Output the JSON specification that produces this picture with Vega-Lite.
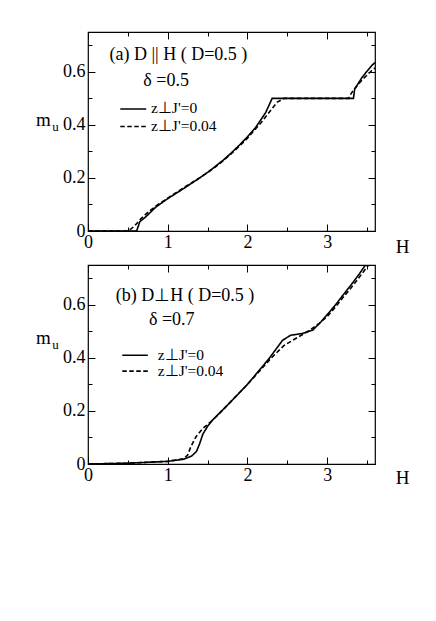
{
  "$schema": "https://vega.github.io/schema/vega-lite/v6.json",
  "autosize": "none",
  "padding": {"left": 88, "top": 32, "right": 348, "bottom": 589},
  "background": "white",
  "bounds": "flush",
  "spacing": 34,
  "datasets": {
    "curves": [
      {"panel": "a", "series": "z⊥J'=0", "H": 0, "m": 0},
      {"panel": "a", "series": "z⊥J'=0", "H": 0.61, "m": 0},
      {"panel": "a", "series": "z⊥J'=0", "H": 0.65, "m": 0.035},
      {"panel": "a", "series": "z⊥J'=0", "H": 0.73, "m": 0.055},
      {"panel": "a", "series": "z⊥J'=0", "H": 0.85, "m": 0.09},
      {"panel": "a", "series": "z⊥J'=0", "H": 1.0, "m": 0.122},
      {"panel": "a", "series": "z⊥J'=0", "H": 1.2, "m": 0.16},
      {"panel": "a", "series": "z⊥J'=0", "H": 1.4, "m": 0.2},
      {"panel": "a", "series": "z⊥J'=0", "H": 1.5, "m": 0.221},
      {"panel": "a", "series": "z⊥J'=0", "H": 1.6, "m": 0.244},
      {"panel": "a", "series": "z⊥J'=0", "H": 1.7, "m": 0.268},
      {"panel": "a", "series": "z⊥J'=0", "H": 1.8, "m": 0.295},
      {"panel": "a", "series": "z⊥J'=0", "H": 1.9, "m": 0.324},
      {"panel": "a", "series": "z⊥J'=0", "H": 2.0, "m": 0.355},
      {"panel": "a", "series": "z⊥J'=0", "H": 2.1, "m": 0.389},
      {"panel": "a", "series": "z⊥J'=0", "H": 2.23, "m": 0.447},
      {"panel": "a", "series": "z⊥J'=0", "H": 2.31, "m": 0.5},
      {"panel": "a", "series": "z⊥J'=0", "H": 3.33, "m": 0.5},
      {"panel": "a", "series": "z⊥J'=0", "H": 3.345, "m": 0.535},
      {"panel": "a", "series": "z⊥J'=0", "H": 3.44, "m": 0.58},
      {"panel": "a", "series": "z⊥J'=0", "H": 3.56, "m": 0.624},
      {"panel": "a", "series": "z⊥J'=0", "H": 3.6, "m": 0.635},
      {"panel": "a", "series": "z⊥J'=0.04", "H": 0, "m": 0},
      {"panel": "a", "series": "z⊥J'=0.04", "H": 0.49, "m": 0},
      {"panel": "a", "series": "z⊥J'=0.04", "H": 0.54, "m": 0.008},
      {"panel": "a", "series": "z⊥J'=0.04", "H": 0.58, "m": 0.018},
      {"panel": "a", "series": "z⊥J'=0.04", "H": 0.67, "m": 0.048},
      {"panel": "a", "series": "z⊥J'=0.04", "H": 0.75, "m": 0.07},
      {"panel": "a", "series": "z⊥J'=0.04", "H": 0.85, "m": 0.094},
      {"panel": "a", "series": "z⊥J'=0.04", "H": 1.0, "m": 0.124},
      {"panel": "a", "series": "z⊥J'=0.04", "H": 1.2, "m": 0.163},
      {"panel": "a", "series": "z⊥J'=0.04", "H": 1.4, "m": 0.2},
      {"panel": "a", "series": "z⊥J'=0.04", "H": 1.5, "m": 0.22},
      {"panel": "a", "series": "z⊥J'=0.04", "H": 1.6, "m": 0.242},
      {"panel": "a", "series": "z⊥J'=0.04", "H": 1.7, "m": 0.266},
      {"panel": "a", "series": "z⊥J'=0.04", "H": 1.8, "m": 0.292},
      {"panel": "a", "series": "z⊥J'=0.04", "H": 1.9, "m": 0.32},
      {"panel": "a", "series": "z⊥J'=0.04", "H": 2.0, "m": 0.35},
      {"panel": "a", "series": "z⊥J'=0.04", "H": 2.17, "m": 0.408},
      {"panel": "a", "series": "z⊥J'=0.04", "H": 2.3, "m": 0.458},
      {"panel": "a", "series": "z⊥J'=0.04", "H": 2.375, "m": 0.486},
      {"panel": "a", "series": "z⊥J'=0.04", "H": 2.46, "m": 0.5},
      {"panel": "a", "series": "z⊥J'=0.04", "H": 3.27, "m": 0.5},
      {"panel": "a", "series": "z⊥J'=0.04", "H": 3.3, "m": 0.518},
      {"panel": "a", "series": "z⊥J'=0.04", "H": 3.34, "m": 0.535},
      {"panel": "a", "series": "z⊥J'=0.04", "H": 3.44, "m": 0.57},
      {"panel": "a", "series": "z⊥J'=0.04", "H": 3.56, "m": 0.605},
      {"panel": "a", "series": "z⊥J'=0.04", "H": 3.6, "m": 0.615},
      {"panel": "b", "series": "z⊥J'=0", "H": 0, "m": 0},
      {"panel": "b", "series": "z⊥J'=0", "H": 0.5, "m": 0.003},
      {"panel": "b", "series": "z⊥J'=0", "H": 1.0, "m": 0.01},
      {"panel": "b", "series": "z⊥J'=0", "H": 1.2, "m": 0.018},
      {"panel": "b", "series": "z⊥J'=0", "H": 1.3, "m": 0.03},
      {"panel": "b", "series": "z⊥J'=0", "H": 1.36, "m": 0.047},
      {"panel": "b", "series": "z⊥J'=0", "H": 1.4, "m": 0.076},
      {"panel": "b", "series": "z⊥J'=0", "H": 1.44, "m": 0.112},
      {"panel": "b", "series": "z⊥J'=0", "H": 1.5, "m": 0.142},
      {"panel": "b", "series": "z⊥J'=0", "H": 1.56, "m": 0.165},
      {"panel": "b", "series": "z⊥J'=0", "H": 1.75, "m": 0.222},
      {"panel": "b", "series": "z⊥J'=0", "H": 2.0, "m": 0.3},
      {"panel": "b", "series": "z⊥J'=0", "H": 2.27, "m": 0.397},
      {"panel": "b", "series": "z⊥J'=0", "H": 2.44, "m": 0.466},
      {"panel": "b", "series": "z⊥J'=0", "H": 2.54, "m": 0.485},
      {"panel": "b", "series": "z⊥J'=0", "H": 2.69, "m": 0.492},
      {"panel": "b", "series": "z⊥J'=0", "H": 2.82, "m": 0.505},
      {"panel": "b", "series": "z⊥J'=0", "H": 2.92, "m": 0.535},
      {"panel": "b", "series": "z⊥J'=0", "H": 3.0, "m": 0.563},
      {"panel": "b", "series": "z⊥J'=0", "H": 3.1, "m": 0.598},
      {"panel": "b", "series": "z⊥J'=0", "H": 3.2, "m": 0.637},
      {"panel": "b", "series": "z⊥J'=0", "H": 3.3, "m": 0.675},
      {"panel": "b", "series": "z⊥J'=0", "H": 3.4, "m": 0.715},
      {"panel": "b", "series": "z⊥J'=0", "H": 3.48, "m": 0.75},
      {"panel": "b", "series": "z⊥J'=0.04", "H": 0, "m": 0},
      {"panel": "b", "series": "z⊥J'=0.04", "H": 0.5, "m": 0.003},
      {"panel": "b", "series": "z⊥J'=0.04", "H": 1.0, "m": 0.01},
      {"panel": "b", "series": "z⊥J'=0.04", "H": 1.2, "m": 0.02},
      {"panel": "b", "series": "z⊥J'=0.04", "H": 1.25, "m": 0.034},
      {"panel": "b", "series": "z⊥J'=0.04", "H": 1.29, "m": 0.065},
      {"panel": "b", "series": "z⊥J'=0.04", "H": 1.355, "m": 0.103},
      {"panel": "b", "series": "z⊥J'=0.04", "H": 1.44, "m": 0.134},
      {"panel": "b", "series": "z⊥J'=0.04", "H": 1.56, "m": 0.164},
      {"panel": "b", "series": "z⊥J'=0.04", "H": 1.75, "m": 0.222},
      {"panel": "b", "series": "z⊥J'=0.04", "H": 2.0, "m": 0.3},
      {"panel": "b", "series": "z⊥J'=0.04", "H": 2.31, "m": 0.403},
      {"panel": "b", "series": "z⊥J'=0.04", "H": 2.46, "m": 0.447},
      {"panel": "b", "series": "z⊥J'=0.04", "H": 2.6, "m": 0.472},
      {"panel": "b", "series": "z⊥J'=0.04", "H": 2.77, "m": 0.502},
      {"panel": "b", "series": "z⊥J'=0.04", "H": 2.9, "m": 0.53},
      {"panel": "b", "series": "z⊥J'=0.04", "H": 3.0, "m": 0.556},
      {"panel": "b", "series": "z⊥J'=0.04", "H": 3.1, "m": 0.59},
      {"panel": "b", "series": "z⊥J'=0.04", "H": 3.2, "m": 0.628},
      {"panel": "b", "series": "z⊥J'=0.04", "H": 3.3, "m": 0.664},
      {"panel": "b", "series": "z⊥J'=0.04", "H": 3.4, "m": 0.703},
      {"panel": "b", "series": "z⊥J'=0.04", "H": 3.52, "m": 0.75}
    ],
    "legendLines": [
      {"panel": "a", "series": "z⊥J'=0", "H": 0.405, "m": 0.46},
      {"panel": "a", "series": "z⊥J'=0", "H": 0.73, "m": 0.46},
      {"panel": "a", "series": "z⊥J'=0.04", "H": 0.405, "m": 0.394},
      {"panel": "a", "series": "z⊥J'=0.04", "H": 0.73, "m": 0.394},
      {"panel": "b", "series": "z⊥J'=0", "H": 0.43, "m": 0.41},
      {"panel": "b", "series": "z⊥J'=0", "H": 0.75, "m": 0.41},
      {"panel": "b", "series": "z⊥J'=0.04", "H": 0.43, "m": 0.35},
      {"panel": "b", "series": "z⊥J'=0.04", "H": 0.75, "m": 0.35}
    ],
    "legendTexts": [
      {"panel": "a", "label": "z⊥J'=0", "H": 0.79, "m": 0.462},
      {"panel": "a", "label": "z⊥J'=0.04", "H": 0.79, "m": 0.394},
      {"panel": "b", "label": "z⊥J'=0", "H": 0.875, "m": 0.412},
      {"panel": "b", "label": "z⊥J'=0.04", "H": 0.875, "m": 0.35}
    ],
    "titles": [
      {"panel": "a", "label": "(a) D || H ( D=0.5 )", "H": 1.134, "m": 0.665},
      {"panel": "a", "label": "δ =0.5", "H": 0.98, "m": 0.567},
      {"panel": "b", "label": "(b) D⊥H ( D=0.5 )", "H": 1.217, "m": 0.635},
      {"panel": "b", "label": "δ =0.7", "H": 1.05, "m": 0.541}
    ]
  },
  "vconcat": [
    {
      "width": 287,
      "height": 199,
      "layer": [
        {
          "data": {"name": "curves"},
          "transform": [{"filter": "datum.panel === 'a'"}],
          "mark": {"type": "line", "color": "black", "strokeWidth": 1.6, "clip": true},
          "encoding": {
            "x": {"field": "H", "type": "quantitative", "scale": {"domain": [0, 3.6], "nice": false, "zero": false},
              "axis": {"orient": "bottom", "values": [0, 1, 2, 3], "labelExpr": "format(datum.value, 'd')", "tickSize": -7, "labelPadding": 9, "title": "H", "titleFontSize": 19, "titleX": 314, "titleY": 15, "titleAlign": "center", "titleBaseline": "middle", "titleAngle": 0}},
            "y": {"field": "m", "type": "quantitative", "scale": {"domain": [0, 0.75], "nice": false, "zero": false},
              "axis": {"orient": "left", "values": [0, 0.2, 0.4, 0.6], "labelExpr": "datum.value === 0 ? '0' : format(datum.value, '.1f')", "tickSize": -7, "labelPadding": 10, "title": "m", "titleFontSize": 19, "titleX": -45, "titleY": 87, "titleAlign": "center", "titleBaseline": "middle", "titleAngle": 0}},
            "strokeDash": {"field": "series", "type": "nominal", "scale": {"domain": ["z⊥J'=0", "z⊥J'=0.04"], "range": [[1, 0], [4.5, 2.5]]}, "legend": null}
          }
        },
        {
          "data": {"name": "legendLines"},
          "transform": [{"filter": "datum.panel === 'a'"}],
          "mark": {"type": "line", "color": "black", "strokeWidth": 1.6},
          "encoding": {
            "x": {"field": "H", "type": "quantitative", "axis": {"orient": "bottom", "values": [0.5, 1.5, 2.5, 3.5], "labels": false, "tickSize": -4, "title": null}},
            "y": {"field": "m", "type": "quantitative", "axis": {"orient": "left", "values": [0.1, 0.3, 0.5, 0.7], "labels": false, "tickSize": -4, "title": "u", "titleFontSize": 13, "titleX": -33, "titleY": 94, "titleAlign": "center", "titleBaseline": "middle", "titleAngle": 0}},
            "strokeDash": {"field": "series", "type": "nominal", "legend": null}
          }
        },
        {
          "data": {"name": "titles"},
          "transform": [{"filter": "datum.panel === 'a'"}],
          "mark": {"type": "text", "align": "center", "baseline": "middle", "font": "Liberation Serif", "fontSize": 18, "color": "black"},
          "encoding": {
            "x": {"field": "H", "type": "quantitative", "axis": {"orient": "top", "values": [0, 1, 2, 3], "labels": false, "tickSize": -7, "title": null}},
            "y": {"field": "m", "type": "quantitative", "axis": {"orient": "right", "values": [0, 0.2, 0.4, 0.6], "labels": false, "tickSize": -7, "title": null}},
            "text": {"field": "label"}
          }
        },
        {
          "data": {"name": "legendTexts"},
          "transform": [{"filter": "datum.panel === 'a'"}],
          "mark": {"type": "text", "align": "left", "baseline": "middle", "font": "Liberation Serif", "fontSize": 15.5, "color": "black"},
          "encoding": {
            "x": {"field": "H", "type": "quantitative", "axis": {"orient": "top", "values": [0.5, 1.5, 2.5, 3.5], "labels": false, "tickSize": -4, "title": null}},
            "y": {"field": "m", "type": "quantitative", "axis": {"orient": "right", "values": [0.1, 0.3, 0.5, 0.7], "labels": false, "tickSize": -4, "title": null}},
            "text": {"field": "label"}
          }
        }
      ]
    },
    {
      "width": 287,
      "height": 199,
      "layer": [
        {
          "data": {"name": "curves"},
          "transform": [{"filter": "datum.panel === 'b'"}],
          "mark": {"type": "line", "color": "black", "strokeWidth": 1.6, "clip": true},
          "encoding": {
            "x": {"field": "H", "type": "quantitative", "scale": {"domain": [0, 3.6], "nice": false, "zero": false},
              "axis": {"orient": "bottom", "values": [0, 1, 2, 3], "labelExpr": "format(datum.value, 'd')", "tickSize": -7, "labelPadding": 9, "title": "H", "titleFontSize": 19, "titleX": 314, "titleY": 13, "titleAlign": "center", "titleBaseline": "middle", "titleAngle": 0}},
            "y": {"field": "m", "type": "quantitative", "scale": {"domain": [0, 0.75], "nice": false, "zero": false},
              "axis": {"orient": "left", "values": [0, 0.2, 0.4, 0.6], "labelExpr": "datum.value === 0 ? '0' : format(datum.value, '.1f')", "tickSize": -7, "labelPadding": 10, "title": "m", "titleFontSize": 19, "titleX": -45, "titleY": 72, "titleAlign": "center", "titleBaseline": "middle", "titleAngle": 0}},
            "strokeDash": {"field": "series", "type": "nominal", "scale": {"domain": ["z⊥J'=0", "z⊥J'=0.04"], "range": [[1, 0], [4.5, 2.5]]}, "legend": null}
          }
        },
        {
          "data": {"name": "legendLines"},
          "transform": [{"filter": "datum.panel === 'b'"}],
          "mark": {"type": "line", "color": "black", "strokeWidth": 1.6},
          "encoding": {
            "x": {"field": "H", "type": "quantitative", "axis": {"orient": "bottom", "values": [0.5, 1.5, 2.5, 3.5], "labels": false, "tickSize": -4, "title": null}},
            "y": {"field": "m", "type": "quantitative", "axis": {"orient": "left", "values": [0.1, 0.3, 0.5, 0.7], "labels": false, "tickSize": -4, "title": "u", "titleFontSize": 13, "titleX": -33, "titleY": 79, "titleAlign": "center", "titleBaseline": "middle", "titleAngle": 0}},
            "strokeDash": {"field": "series", "type": "nominal", "legend": null}
          }
        },
        {
          "data": {"name": "titles"},
          "transform": [{"filter": "datum.panel === 'b'"}],
          "mark": {"type": "text", "align": "center", "baseline": "middle", "font": "Liberation Serif", "fontSize": 18, "color": "black"},
          "encoding": {
            "x": {"field": "H", "type": "quantitative", "axis": {"orient": "top", "values": [0, 1, 2, 3], "labels": false, "tickSize": -7, "title": null}},
            "y": {"field": "m", "type": "quantitative", "axis": {"orient": "right", "values": [0, 0.2, 0.4, 0.6], "labels": false, "tickSize": -7, "title": null}},
            "text": {"field": "label"}
          }
        },
        {
          "data": {"name": "legendTexts"},
          "transform": [{"filter": "datum.panel === 'b'"}],
          "mark": {"type": "text", "align": "left", "baseline": "middle", "font": "Liberation Serif", "fontSize": 15.5, "color": "black"},
          "encoding": {
            "x": {"field": "H", "type": "quantitative", "axis": {"orient": "top", "values": [0.5, 1.5, 2.5, 3.5], "labels": false, "tickSize": -4, "title": null}},
            "y": {"field": "m", "type": "quantitative", "axis": {"orient": "right", "values": [0.1, 0.3, 0.5, 0.7], "labels": false, "tickSize": -4, "title": null}},
            "text": {"field": "label"}
          }
        }
      ]
    }
  ],
  "config": {
    "view": {"stroke": "black", "strokeWidth": 1.2},
    "axis": {"domain": false, "grid": false, "tickColor": "black", "tickWidth": 1, "labelColor": "black", "labelFont": "Liberation Serif", "labelFontSize": 18, "titleFont": "Liberation Serif", "titleFontWeight": "normal", "titleColor": "black", "labelOverlap": false, "labelFlush": false}
  }
}
